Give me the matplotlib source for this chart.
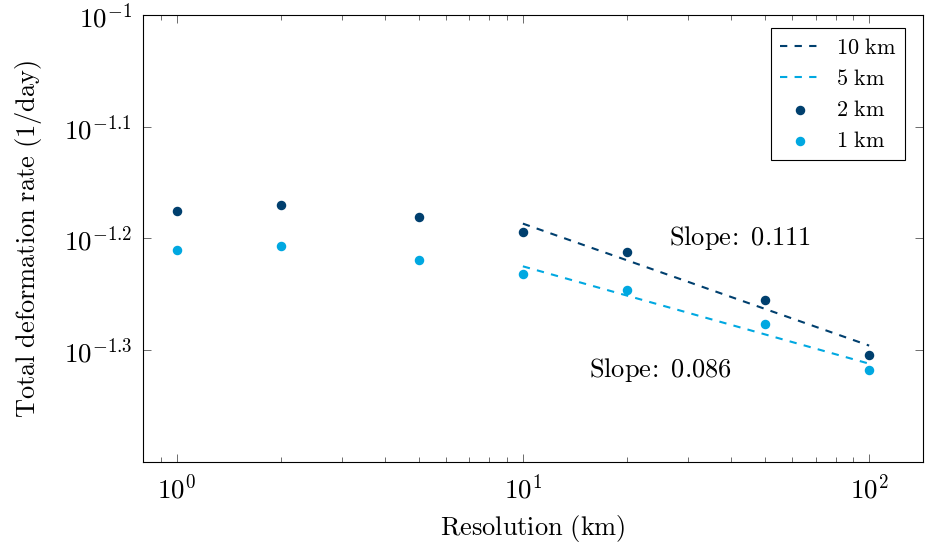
import numpy as np
import matplotlib
matplotlib.use('Agg')
from matplotlib import pyplot
from matplotlib.ticker import LogLocator, FixedLocator, FixedFormatter, NullLocator

pyplot.rcParams['mathtext.fontset'] = 'cm'
pyplot.rcParams['font.family'] = 'serif'
pyplot.rcParams['font.serif'] = ['DejaVu Serif']

# data
resolution = [1, 2, 5, 10, 20, 50, 100]
rate_2km = [0.06682, 0.06763, 0.0659, 0.0640, 0.0614, 0.05556, 0.04966]
rate_1km = [0.0616, 0.0621, 0.0603, 0.0587, 0.0568, 0.0529, 0.0481]
fit_x = [10, 100]
fit_10km = [0.06506, 0.0506]
fit_5km = [0.05958, 0.04875]
slope_labels = ['Slope\\!:\\ 0.111', 'Slope\\!:\\ 0.086']

dark = '#003f6e'
light = '#00a8e1'

fig = pyplot.figure(figsize=[9.25, 5.47], dpi=100)
ax = fig.add_axes([0.1546, 0.1554, 0.8432, 0.8172])
ax.set_xscale('log')
ax.set_yscale('log')

ax.plot(fit_x, fit_10km, color=dark, ls=(0, (3.5, 3.5)), lw=1.5, label=r'$\mathrm{10\ km}$')
ax.plot(fit_x, fit_5km, color=light, ls=(0, (3.5, 3.5)), lw=1.5, label=r'$\mathrm{5\ km}$')
ax.scatter(resolution, rate_2km, s=34, color=dark, zorder=3, label=r'$\mathrm{2\ km}$')
ax.scatter(resolution, rate_1km, s=34, color=light, zorder=3, label=r'$\mathrm{1\ km}$')

ax.text(26.5, 10**-1.2, r'$\mathrm{' + slope_labels[0] + '}$', fontsize=19, va='center', ha='left')
ax.text(15.5, 10**-1.318, r'$\mathrm{' + slope_labels[1] + '}$', fontsize=19, va='center', ha='left')

ax.set_xlim(0.8, 143)
ax.set_ylim(10**-1.4, 10**-1)

ax.xaxis.set_major_locator(FixedLocator([1, 10, 100]))
ax.xaxis.set_major_formatter(FixedFormatter([r'$10^{0}$', r'$10^{1}$', r'$10^{2}$']))
ax.xaxis.set_minor_locator(LogLocator(base=10, subs=np.arange(2, 10), numticks=10))

yt = [10**-1.3, 10**-1.2, 10**-1.1, 10**-1]
ax.yaxis.set_major_locator(FixedLocator(yt))
ax.yaxis.set_major_formatter(FixedFormatter([r'$10^{-1.3}$', r'$10^{-1.2}$', r'$10^{-1.1}$', r'$10^{-1}$']))
ax.yaxis.set_minor_locator(NullLocator())

ax.tick_params(which='both', direction='in', top=True, right=True, labelsize=19.5, color='#555555')
ax.tick_params(which='major', length=6, width=0.6)
ax.tick_params(which='minor', length=3.5, width=0.6)
ax.tick_params(axis='x', pad=9)
ax.tick_params(axis='y', pad=8)
for s in ax.spines.values():
    s.set_linewidth(0.8)

ax.set_xlabel(r'$\mathrm{Resolution\ (km)}$', fontsize=19, labelpad=6.5)
ax.set_ylabel(r'$\mathrm{Total\ deformation\ rate\ (1/day)}$', fontsize=19, labelpad=14)

leg = ax.legend(loc='upper right', bbox_to_anchor=(0.977, 0.971), fontsize=16, fancybox=False,
                edgecolor='black', framealpha=1, handlelength=1.8, handletextpad=0.7,
                borderpad=0.4, labelspacing=0.4, borderaxespad=0)
leg.get_frame().set_linewidth(0.8)

pyplot.savefig('out.png', dpi=100)
